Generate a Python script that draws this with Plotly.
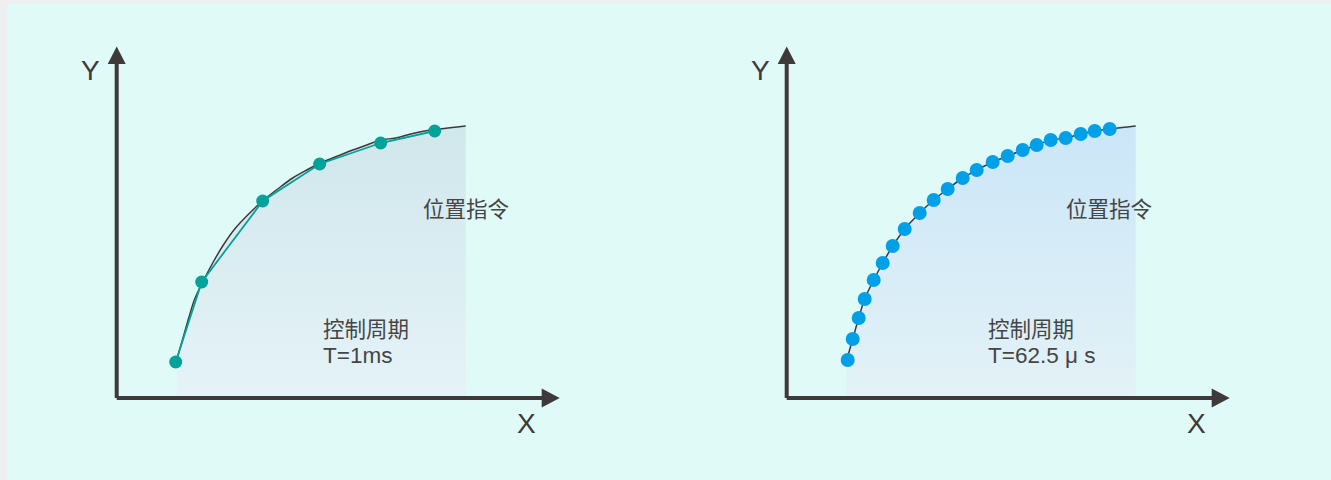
import plotly.graph_objects as go

# smooth position command curve (origin-relative units)
curve_x = [60, 66, 72, 78, 87, 96, 106, 118, 133, 147, 161, 176, 190, 206, 221, 236, 250, 264, 279, 294, 308, 323, 349]
curve_y = [38, 59, 80, 99, 118, 135, 152, 169, 185, 198, 209, 220, 228, 236, 242, 248, 253, 258, 260, 264, 267, 269, 272]

# T = 1ms sampling points
coarse_x = [59, 85, 146, 203, 264, 318]
coarse_y = [36, 116, 197, 234, 255, 267]

# T = 62.5us sampling points
fine_x = [61, 66, 72, 78, 87, 96, 106, 118, 133, 147, 161, 176, 190, 206, 221, 236, 250, 264, 279, 294, 308, 323]
fine_y = [38, 59, 80, 99, 118, 135, 152, 169, 185, 198, 209, 220, 228, 236, 242, 248, 253, 258, 260, 264, 267, 269]

labels_left = ['位置指令', '控制周期', 'T=1ms']
labels_right = ['位置指令', '控制周期', 'T=62.5 μ s']

W, H = 1331, 480
axis_col = '#3e3a39'
text_col = '#454545'
xr = [-30, 460]
yr = [-30, 370]


def dom_x(px0):
    return [px0 / W, (px0 + xr[1] - xr[0]) / W]


ydom = [(H - 428) / H, (H - 28) / H]

fig = go.Figure()

panels = [
    dict(xa='x', ya='y', ox=116.7, fill=['#e5f3f7', '#d0e7ec'], labels=labels_left, cmd_x=349, txt_x=204),
    dict(xa='x2', ya='y2', ox=786.7, fill=['#e3f2f6', '#cbe6f8'], labels=labels_right, cmd_x=322, txt_x=199),
]

for p in panels:
    fig.add_trace(go.Scatter(x=curve_x, y=curve_y, xaxis=p['xa'], yaxis=p['ya'],
                             mode='lines', line=dict(color=axis_col, width=1.5, shape='spline'),
                             fill='tozeroy',
                             fillgradient=dict(type='vertical',
                                               colorscale=[[0, p['fill'][0]], [1, p['fill'][1]]]),
                             hoverinfo='skip', showlegend=False))

fig.add_trace(go.Scatter(x=coarse_x, y=coarse_y, xaxis='x', yaxis='y', mode='lines+markers',
                         line=dict(color='#00a29a', width=1.8),
                         marker=dict(color='#00a29a', size=13),
                         showlegend=False))
fig.add_trace(go.Scatter(x=fine_x, y=fine_y, xaxis='x2', yaxis='y2', mode='markers',
                         marker=dict(color='#00a0e9', size=14),
                         showlegend=False))

shapes = []
annotations = []
for p in panels:
    xa, ya = p['xa'], p['ya']
    # axis lines
    shapes.append(dict(type='line', xref=xa, yref=ya, x0=0, y0=0, x1=0, y1=335,
                       line=dict(color=axis_col, width=4)))
    shapes.append(dict(type='line', xref=xa, yref=ya, x0=0, y0=0, x1=427, y1=0,
                       line=dict(color=axis_col, width=4)))
    # arrow heads
    shapes.append(dict(type='path', xref=xa, yref=ya, path='M -9,334 L 9,334 L 0,351.5 Z',
                       fillcolor=axis_col, line=dict(width=0)))
    shapes.append(dict(type='path', xref=xa, yref=ya, path='M 425,9.5 L 425,-9.5 L 443,0 Z',
                       fillcolor=axis_col, line=dict(width=0)))
    annotations += [
        dict(xref=xa, yref=ya, x=-26, y=328, text='Y', showarrow=False,
             font=dict(size=28, color=axis_col, family='Liberation Sans')),
        dict(xref=xa, yref=ya, x=410, y=-25, text='X', showarrow=False,
             font=dict(size=28, color=axis_col, family='Liberation Sans')),
        dict(xref=xa, yref=ya, x=p['cmd_x'], y=191, text=p['labels'][0], showarrow=False,
             font=dict(size=21.5, color=text_col, family='Noto Sans CJK SC')),
        dict(xref=xa, yref=ya, x=p['txt_x'], y=71, text=p['labels'][1],
             showarrow=False, xanchor='left',
             font=dict(size=21.5, color=text_col, family='Noto Sans CJK SC')),
        dict(xref=xa, yref=ya, x=p['txt_x'], y=43, text=p['labels'][2],
             showarrow=False, xanchor='left',
             font=dict(size=22.5, color=text_col, family='Liberation Sans')),
    ]

# mint background panel
shapes.insert(0, dict(type='rect', xref='paper', yref='paper', x0=7 / W, y0=0, x1=1, y1=(H - 4) / H,
                      fillcolor='#e0faf8', line=dict(width=0), layer='below'))

axis_style = dict(visible=False, fixedrange=True)
fig.update_layout(
    width=W, height=H,
    margin=dict(l=0, r=0, t=0, b=0),
    paper_bgcolor='#efefef',
    plot_bgcolor='rgba(0,0,0,0)',
    xaxis=dict(domain=dom_x(116.7 + xr[0]), range=xr, **axis_style),
    yaxis=dict(domain=ydom, range=yr, **axis_style),
    xaxis2=dict(domain=dom_x(786.7 + xr[0]), range=xr, anchor='y2', **axis_style),
    yaxis2=dict(domain=ydom, range=yr, anchor='x2', **axis_style),
    shapes=shapes,
    annotations=annotations,
)

fig.write_html('out.html', config={'displayModeBar': False},
               post_script="document.body.style.margin='0';document.body.style.overflow='hidden';")
